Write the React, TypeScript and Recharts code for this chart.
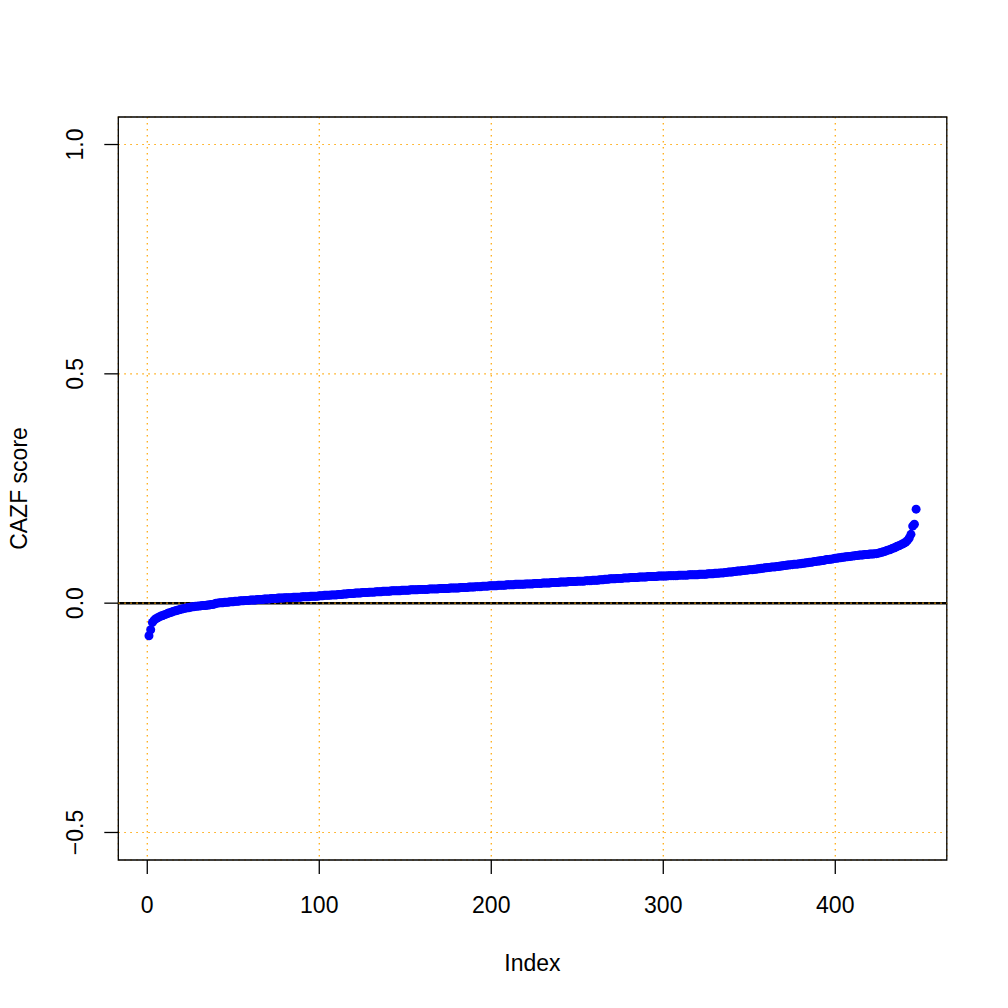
import React from 'react';
import {
  ScatterChart,
  Scatter,
  XAxis,
  YAxis,
  CartesianGrid,
  ReferenceLine,
  ReferenceArea,
  Label,
} from 'recharts';

// Sorted CAZF scores (index 1..447)
const cazfScores: number[] = [
  -0.071, -0.058, -0.042, -0.037, -0.034, -0.032, -0.030, -0.028, -0.027, -0.025,
  -0.024, -0.022, -0.021, -0.020, -0.018, -0.017, -0.016, -0.015, -0.014, -0.013,
  -0.012, -0.011, -0.010, -0.010, -0.009, -0.008, -0.008, -0.007, -0.007, -0.006,
  -0.006, -0.005, -0.005, -0.005, -0.004, -0.004, -0.003, -0.003, -0.002, 0.000,
  0.000, 0.001, 0.001, 0.001, 0.002, 0.002, 0.002, 0.003, 0.003, 0.003,
  0.004, 0.004, 0.004, 0.005, 0.005, 0.005, 0.006, 0.006, 0.006, 0.007,
  0.007, 0.007, 0.007, 0.008, 0.008, 0.008, 0.008, 0.009, 0.009, 0.009,
  0.009, 0.010, 0.010, 0.010, 0.010, 0.011, 0.011, 0.011, 0.011, 0.012,
  0.012, 0.012, 0.012, 0.012, 0.013, 0.013, 0.013, 0.013, 0.013, 0.014,
  0.014, 0.014, 0.014, 0.014, 0.015, 0.015, 0.015, 0.015, 0.015, 0.016,
  0.016, 0.016, 0.017, 0.017, 0.017, 0.017, 0.018, 0.018, 0.018, 0.018,
  0.019, 0.019, 0.019, 0.020, 0.020, 0.020, 0.021, 0.021, 0.021, 0.021,
  0.022, 0.022, 0.022, 0.022, 0.023, 0.023, 0.023, 0.023, 0.024, 0.024,
  0.024, 0.024, 0.025, 0.025, 0.025, 0.025, 0.026, 0.026, 0.026, 0.026,
  0.026, 0.027, 0.027, 0.027, 0.027, 0.027, 0.027, 0.028, 0.028, 0.028,
  0.028, 0.028, 0.029, 0.029, 0.029, 0.029, 0.029, 0.030, 0.030, 0.030,
  0.030, 0.030, 0.030, 0.031, 0.031, 0.031, 0.031, 0.031, 0.031, 0.032,
  0.032, 0.032, 0.032, 0.032, 0.032, 0.033, 0.033, 0.033, 0.033, 0.033,
  0.033, 0.034, 0.034, 0.034, 0.034, 0.034, 0.035, 0.035, 0.035, 0.035,
  0.036, 0.036, 0.036, 0.036, 0.037, 0.037, 0.037, 0.037, 0.038, 0.038,
  0.038, 0.038, 0.038, 0.039, 0.039, 0.039, 0.039, 0.039, 0.040, 0.040,
  0.040, 0.040, 0.040, 0.041, 0.041, 0.041, 0.041, 0.041, 0.041, 0.042,
  0.042, 0.042, 0.042, 0.042, 0.043, 0.043, 0.043, 0.043, 0.043, 0.044,
  0.044, 0.044, 0.044, 0.044, 0.045, 0.045, 0.045, 0.045, 0.045, 0.046,
  0.046, 0.046, 0.046, 0.046, 0.047, 0.047, 0.047, 0.047, 0.047, 0.048,
  0.048, 0.048, 0.048, 0.048, 0.049, 0.049, 0.049, 0.049, 0.050, 0.050,
  0.050, 0.050, 0.051, 0.051, 0.051, 0.052, 0.052, 0.052, 0.053, 0.053,
  0.053, 0.053, 0.054, 0.054, 0.054, 0.054, 0.055, 0.055, 0.055, 0.055,
  0.056, 0.056, 0.056, 0.056, 0.056, 0.057, 0.057, 0.057, 0.057, 0.057,
  0.058, 0.058, 0.058, 0.058, 0.058, 0.058, 0.059, 0.059, 0.059, 0.059,
  0.059, 0.059, 0.060, 0.060, 0.060, 0.060, 0.060, 0.060, 0.061, 0.061,
  0.061, 0.061, 0.061, 0.061, 0.062, 0.062, 0.062, 0.062, 0.062, 0.062,
  0.063, 0.063, 0.063, 0.063, 0.063, 0.064, 0.064, 0.064, 0.064, 0.065,
  0.065, 0.065, 0.066, 0.066, 0.066, 0.067, 0.067, 0.068, 0.068, 0.068,
  0.069, 0.069, 0.070, 0.070, 0.070, 0.071, 0.071, 0.072, 0.072, 0.073,
  0.073, 0.073, 0.074, 0.074, 0.075, 0.075, 0.076, 0.076, 0.077, 0.077,
  0.078, 0.078, 0.079, 0.079, 0.079, 0.080, 0.080, 0.081, 0.081, 0.082,
  0.082, 0.083, 0.083, 0.084, 0.084, 0.085, 0.085, 0.085, 0.086, 0.086,
  0.087, 0.087, 0.088, 0.088, 0.089, 0.089, 0.090, 0.091, 0.091, 0.092,
  0.092, 0.093, 0.093, 0.094, 0.095, 0.095, 0.096, 0.096, 0.097, 0.098,
  0.098, 0.099, 0.099, 0.100, 0.100, 0.101, 0.101, 0.102, 0.102, 0.103,
  0.103, 0.104, 0.104, 0.105, 0.105, 0.105, 0.106, 0.106, 0.106, 0.107,
  0.107, 0.107, 0.108, 0.108, 0.109, 0.110, 0.111, 0.112, 0.113, 0.115,
  0.116, 0.117, 0.119, 0.120, 0.122, 0.124, 0.125, 0.127, 0.129, 0.131,
  0.133, 0.137, 0.142, 0.150, 0.168, 0.172, 0.205,
];

const xTicks: number[] = [0, 100, 200, 300, 400];
const yTicks: number[] = [-0.5, 0, 0.5, 1.0];
const xAxisTitle = 'Index';
const yAxisTitle = 'CAZF score';

const data = cazfScores.map((score, i) => ({ index: i + 1, score }));

const X_DOMAIN: [number, number] = [-16.84, 464.84];
const Y_DOMAIN: [number, number] = [-0.56, 1.06];

const FONT = '"Liberation Sans", Arial, Helvetica, sans-serif';
const FONT_SIZE = 23;

const fmtY = (v: number) => v.toFixed(1).replace('-', '\u2212');

const XTick = (props: any) => {
  const { x, y, payload } = props;
  return (
    <text
      x={x}
      y={y}
      dy="0.35em"
      textAnchor="middle"
      fill="#000"
      fontFamily={FONT}
      fontSize={FONT_SIZE}
    >
      {String(payload.value)}
    </text>
  );
};

const YTick = (props: any) => {
  const { x, y, payload } = props;
  return (
    <text
      transform={`translate(${x},${y}) rotate(-90)`}
      dy="0.35em"
      textAnchor="middle"
      fill="#000"
      fontFamily={FONT}
      fontSize={FONT_SIZE}
    >
      {fmtY(payload.value)}
    </text>
  );
};

const Dot = (props: any) => {
  const { cx, cy } = props;
  if (cx == null || cy == null) return null;
  return <circle cx={cx} cy={cy} r={4.5} fill="#0000FF" />;
};

export default function App() {
  return (
    <div style={{ position: 'absolute', left: 0, top: 0, width: 1000, height: 1000, background: '#fff' }}>
      <ScatterChart
        width={1000}
        height={1000}
        margin={{ top: 117, right: 53.2, bottom: 80, left: 58.3 }}
      >
        <CartesianGrid
          stroke="#FFA500"
          strokeWidth={1.2}
          strokeDasharray="1.5 4.5"
        />
        <XAxis
          type="number"
          dataKey="index"
          domain={X_DOMAIN}
          ticks={xTicks}
          allowDataOverflow
          axisLine={false}
          tickLine={{ stroke: '#000', strokeWidth: 1.3 }}
          tickSize={14}
          tickMargin={31}
          height={60}
          tick={<XTick />}
          interval={0}
        >
          <Label
            content={() => (
              <text
                x={532.5}
                y={963}
                dy="0.35em"
                textAnchor="middle"
                fill="#000"
                fontFamily={FONT}
                fontSize={FONT_SIZE}
              >
                {xAxisTitle}
              </text>
            )}
          />
        </XAxis>
        <YAxis
          type="number"
          dataKey="score"
          domain={Y_DOMAIN}
          ticks={yTicks}
          allowDataOverflow
          axisLine={false}
          tickLine={{ stroke: '#000', strokeWidth: 1.3 }}
          tickSize={14}
          tickMargin={29}
          width={60}
          tick={<YTick />}
          interval={0}
        >
          <Label
            content={() => (
              <text
                transform="translate(19,488.5) rotate(-90)"
                dy="0.35em"
                textAnchor="middle"
                fill="#000"
                fontFamily={FONT}
                fontSize={FONT_SIZE}
              >
                {yAxisTitle}
              </text>
            )}
          />
        </YAxis>
        <ReferenceLine y={0} stroke="#000" strokeWidth={2.5} ifOverflow="extendDomain" />
        <ReferenceLine y={0} stroke="#FFA500" strokeWidth={1.2} strokeDasharray="1.5 4.5" />
        <Scatter data={data} shape={<Dot />} isAnimationActive={false} />
        <ReferenceArea
          x1={X_DOMAIN[0]}
          x2={X_DOMAIN[1]}
          y1={Y_DOMAIN[0]}
          y2={Y_DOMAIN[1]}
          fill="none"
          fillOpacity={0}
          stroke="#000"
          strokeWidth={1.3}
          ifOverflow="visible"
        />
      </ScatterChart>
    </div>
  );
}
